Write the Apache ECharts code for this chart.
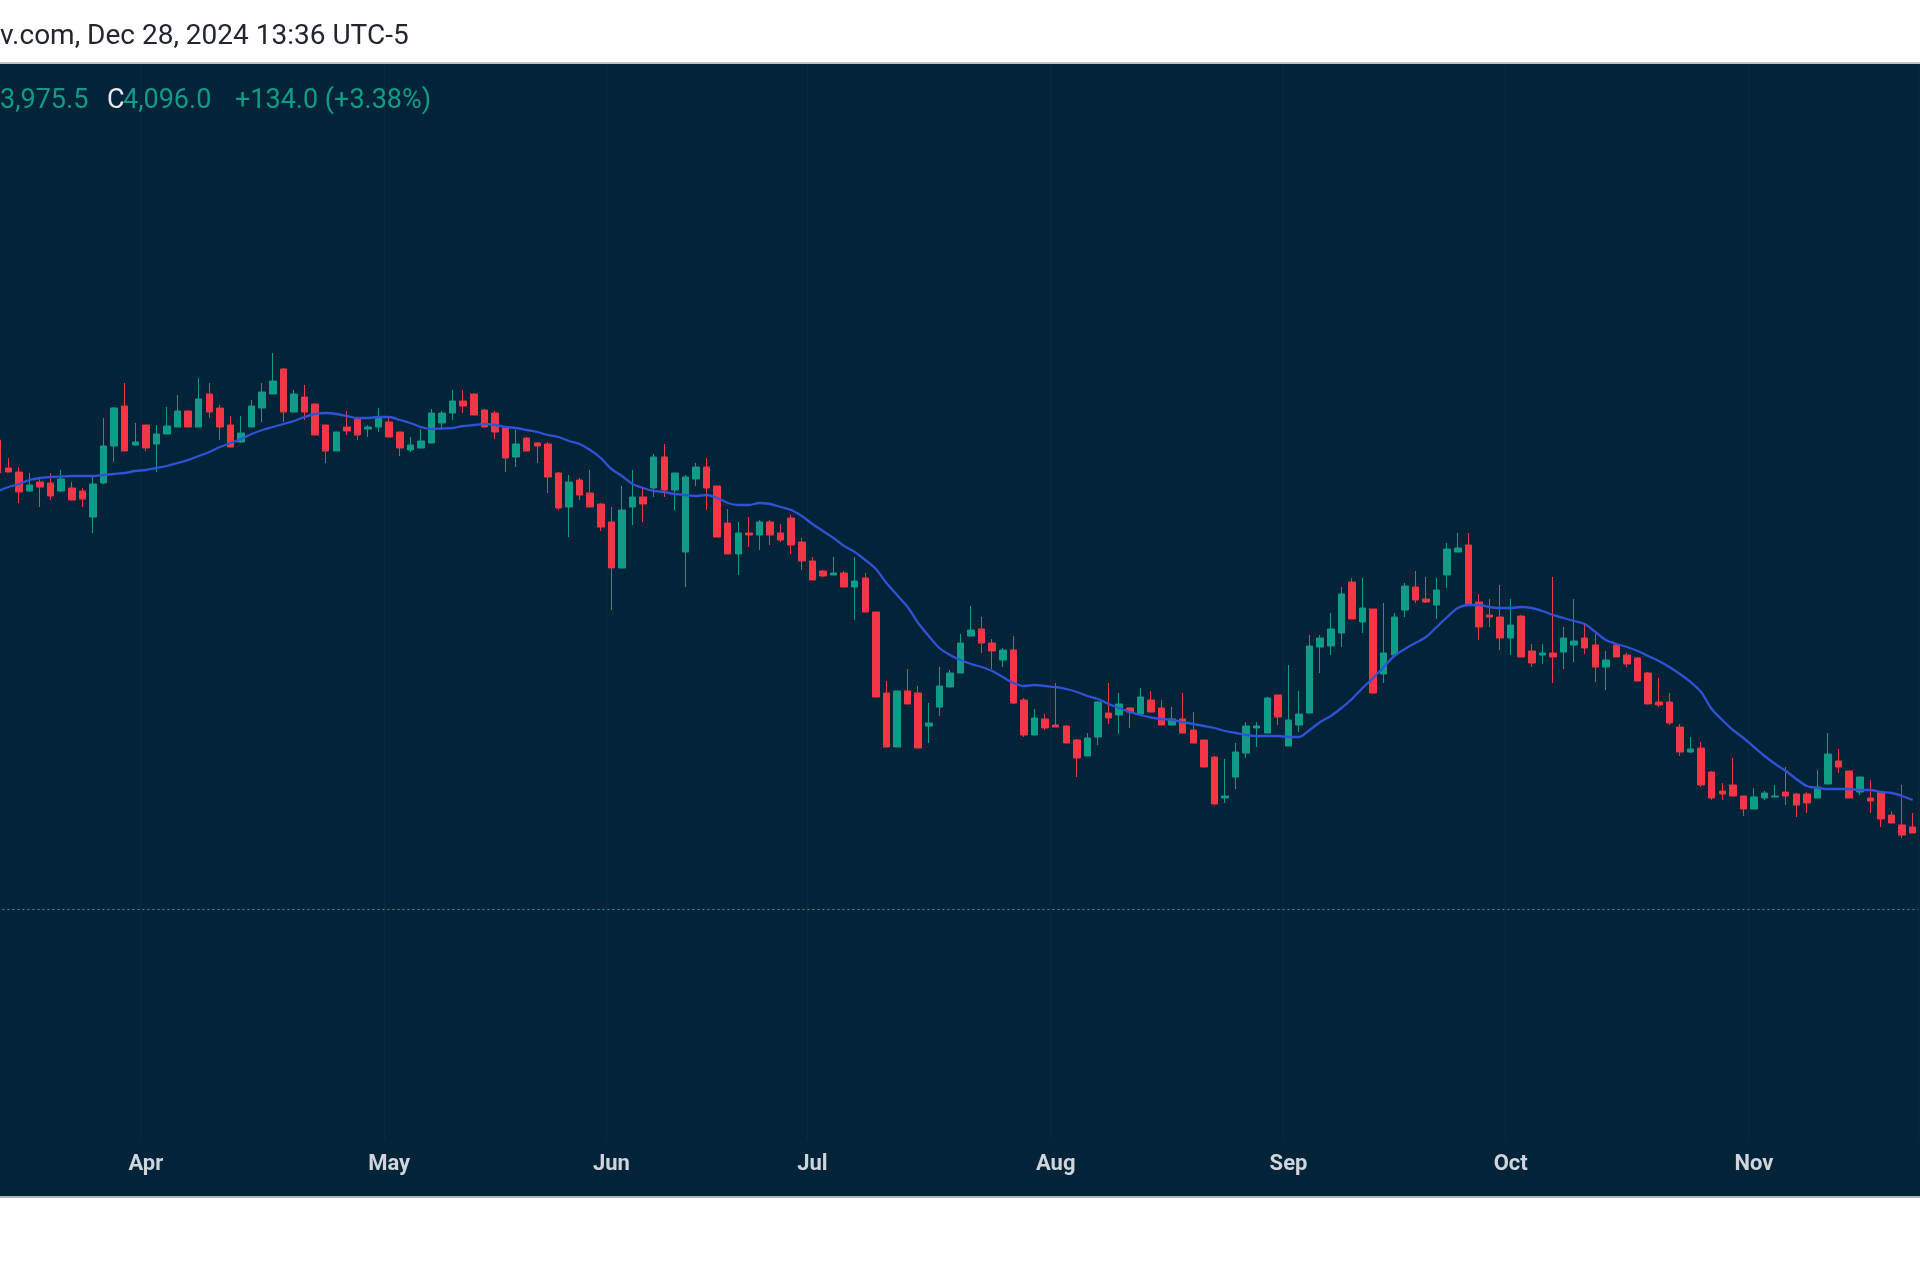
<!DOCTYPE html>
<html>
<head>
<meta charset="utf-8">
<script src="https://cdn.jsdelivr.net/npm/echarts@6/dist/echarts.min.js"></script>
<style>
html,body{margin:0;padding:0;background:#fff;overflow:hidden;width:1920px;height:1280px;}
#chart{position:absolute;left:-20px;top:0;width:1960px;height:1280px;}
</style>
</head>
<body>
<div id="chart"></div>
<script>
// ---- data ----
const headerText = 'v.com, Dec 28, 2024 13:36 UTC-5';
const lastLow = '3,975.5';
const lastCloseText = '4,096.0';
const lastChangeText = '+134.0 (+3.38%)';
const lastClose = 4096.0;

const monthTicks = ['Apr', 'May', 'Jun', 'Jul', 'Aug', 'Sep', 'Oct', 'Nov'];
const monthStartBars = [14, 37, 58, 77, 100, 122, 143, 166];

const opens = [
5034,4978,4970,4932,4950,4948,4932,4938,4932,4880,
4948,5022,5102,5024,5064,5026,5046,5060,5092,5060,
5126,5098,5064,5030,5060,5098,5126,5176,5090,5120,
5106,5064,5012,5060,5076,5056,5060,5070,5050,5014,
5018,5028,5068,5088,5112,5126,5094,5088,5058,5000,
5038,5028,5026,4968,4900,4954,4928,4906,4870,4778,
4900,4920,4938,5000,4934,4810,4956,4980,4942,4868,
4806,4848,4844,4870,4848,4878,4830,4792,4772,4764,
4768,4740,4758,4690,4528,4420,4532,4528,4462,4500,
4540,4568,4642,4656,4628,4594,4614,4514,4444,4476,
4464,4462,4434,4402,4440,4488,4484,4498,4486,4514,
4498,4464,4476,4454,4434,4400,4318,4360,4408,4458,
4448,4524,4422,4464,4488,4620,4622,4648,4750,4670,
4696,4566,4604,4694,4740,4716,4704,4764,4810,4824,
4710,4684,4680,4638,4682,4612,4604,4608,4610,4624,
4638,4624,4580,4624,4604,4598,4568,4510,4510,4460,
4410,4418,4370,4332,4344,4322,4296,4318,4320,4330,
4326,4326,4318,4346,4392,4372,4330,4318,4330,4284,
4264,4260];
const closes = [
4968,4970,4930,4944,4940,4922,4956,4914,4916,4946,
5022,5098,5012,5030,5018,5046,5062,5092,5060,5116,
5090,5060,5020,5048,5102,5130,5152,5090,5126,5090,
5044,5012,5050,5052,5044,5060,5080,5040,5018,5024,
5032,5088,5088,5112,5102,5084,5060,5050,4998,5026,
5012,5022,4960,4898,4950,4924,4900,4860,4778,4894,
4920,4906,5000,4934,4968,4960,4980,4938,4840,4806,
4848,4844,4870,4844,4834,4824,4792,4754,4762,4768,
4740,4752,4690,4520,4420,4532,4506,4418,4468,4542,
4568,4628,4654,4628,4612,4614,4508,4444,4478,4458,
4460,4428,4398,4438,4510,4478,4506,4490,4520,4490,
4464,4476,4448,4428,4380,4306,4322,4410,4462,4462,
4518,4480,4474,4486,4622,4638,4656,4726,4676,4698,
4528,4608,4680,4742,4714,4710,4734,4816,4818,4704,
4660,4680,4638,4664,4600,4588,4608,4600,4638,4632,
4618,4580,4594,4600,4586,4552,4506,4504,4468,4410,
4416,4344,4318,4326,4322,4296,4320,4328,4322,4322,
4304,4308,4340,4406,4380,4318,4360,4312,4276,4268,
4244,4248];
const lows = [
4964,4970,4908,4930,4900,4914,4930,4914,4900,4848,
4946,4990,5012,5022,5012,4970,5046,5060,5060,5060,
5078,5034,5020,5028,5060,5070,5126,5070,5090,5074,
5044,4988,5012,5044,5034,5040,5050,5040,5002,5010,
5018,5028,5054,5074,5088,5084,5060,5036,4970,4980,
5012,4988,4928,4894,4840,4914,4900,4852,4694,4778,
4864,4870,4920,4920,4894,4740,4942,4894,4840,4806,
4764,4820,4814,4824,4830,4806,4774,4754,4760,4764,
4740,4674,4690,4520,4420,4420,4506,4418,4428,4482,
4540,4568,4642,4608,4576,4580,4506,4440,4444,4454,
4460,4428,4360,4402,4424,4466,4446,4458,4482,4490,
4464,4464,4448,4428,4380,4304,4308,4336,4398,4420,
4448,4464,4422,4450,4488,4568,4604,4620,4676,4648,
4528,4548,4604,4680,4708,4708,4676,4738,4810,4704,
4634,4660,4614,4604,4600,4580,4586,4548,4576,4590,
4606,4550,4534,4600,4580,4552,4506,4500,4464,4402,
4408,4340,4314,4314,4322,4282,4296,4314,4320,4304,
4280,4288,4318,4346,4368,4318,4324,4288,4260,4268,
4238,4248];
const highs = [
5038,4998,4980,4968,4960,4968,4974,4950,4938,4960,
5078,5100,5148,5068,5064,5064,5100,5124,5092,5158,
5148,5104,5082,5082,5114,5148,5208,5178,5134,5144,
5106,5064,5050,5092,5078,5064,5098,5078,5050,5040,
5056,5096,5092,5134,5134,5126,5096,5092,5060,5054,
5040,5030,5030,4970,4964,4958,4974,4908,4900,4942,
4974,4940,5006,5026,4968,4964,4988,4998,4942,4896,
4870,4880,4874,4874,4866,4884,4838,4800,4774,4800,
4772,4800,4768,4690,4552,4532,4576,4542,4508,4580,
4574,4646,4702,4680,4636,4618,4642,4518,4496,4486,
4548,4464,4436,4448,4512,4548,4528,4500,4538,4532,
4514,4500,4528,4490,4434,4402,4396,4428,4470,4470,
4520,4524,4584,4532,4644,4644,4688,4740,4758,4758,
4696,4708,4688,4748,4772,4760,4758,4828,4848,4848,
4726,4716,4744,4716,4684,4626,4626,4760,4660,4716,
4664,4646,4612,4626,4608,4600,4570,4558,4528,4466,
4440,4430,4372,4348,4398,4322,4338,4332,4344,4380,
4328,4330,4374,4448,4416,4372,4360,4354,4332,4292,
4344,4288];
// moving average line
const movingAvg = [
4932,4940,4946,4954,4958,4960,4961,4962,4962,4962,
4964,4966,4968,4972,4974,4978,4982,4988,4994,5002,
5010,5020,5028,5036,5046,5054,5060,5066,5072,5080,
5086,5088,5086,5082,5078,5078,5080,5080,5074,5068,
5060,5056,5057,5058,5062,5064,5066,5064,5060,5058,
5054,5050,5044,5040,5032,5026,5014,4998,4976,4962,
4946,4938,4932,4930,4926,4924,4922,4924,4918,4908,
4904,4904,4908,4906,4900,4894,4882,4866,4852,4838,
4822,4810,4794,4776,4748,4724,4700,4668,4642,4618,
4604,4594,4586,4580,4572,4560,4548,4542,4544,4542,
4540,4536,4530,4522,4516,4506,4498,4490,4484,4479,
4476,4474,4470,4466,4462,4458,4452,4448,4444,4442,
4442,4442,4440,4440,4454,4470,4482,4498,4516,4538,
4558,4580,4602,4616,4628,4640,4660,4680,4698,4704,
4704,4700,4698,4698,4700,4698,4692,4684,4678,4672,
4666,4650,4634,4626,4620,4612,4602,4592,4580,4566,
4550,4530,4496,4474,4454,4438,4420,4402,4386,4372,
4356,4342,4338,4336,4336,4336,4334,4334,4330,4328,
4322,4314];

// ---- build ----
const categories = opens.map((_, i) => String(i));
const candles = opens.map((o, i) => [o, closes[i], lows[i], highs[i]]);
const isMonthStart = (i) => monthStartBars.indexOf(i) >= 0;

const UP = '#0f9c86';
const DOWN = '#f23645';
const BG = '#022338';
const FONT = 'Roboto, "Noto Sans", "DejaVu Sans", sans-serif';
const OX = 20; // canvas is shifted 20px left of the page

const chart = echarts.init(document.getElementById('chart'), null, {renderer: 'canvas'});
chart.setOption({
  backgroundColor: '#ffffff',
  animation: false,
  grid: {left: 12.43, right: 22, top: 64, bottom: 140, containLabel: false},
  xAxis: {
    type: 'category',
    data: categories,
    boundaryGap: true,
    axisLine: {show: false},
    axisTick: {show: false},
    axisLabel: {
      interval: (i) => isMonthStart(i),
      formatter: (v) => {
        const k = monthStartBars.indexOf(Number(v));
        return k >= 0 ? monthTicks[k] : '';
      },
      color: '#d0d4db',
      fontSize: 22,
      fontWeight: 'bold',
      fontFamily: FONT,
      margin: 13
    },
    splitLine: {
      show: true,
      interval: (i) => isMonthStart(i),
      lineStyle: {color: 'rgba(255,255,255,0.035)', width: 1}
    }
  },
  yAxis: {
    type: 'value',
    min: 3634,
    max: 5786,
    show: false,
    splitLine: {show: false}
  },
  series: [
    {
      type: 'candlestick',
      data: candles,
      barWidth: 7,
      itemStyle: {
        color: UP, color0: DOWN,
        borderColor: UP, borderColor0: DOWN,
        borderWidth: 1
      },
      markLine: {
        silent: true,
        symbol: ['none', 'none'],
        label: {show: false},
        lineStyle: {color: '#1a9e8c', type: [2, 3], width: 1.2},
        data: [{yAxis: lastClose}]
      },
      z: 3
    },
    {
      type: 'line',
      data: movingAvg,
      showSymbol: false,
      smooth: 0.3,
      lineStyle: {color: '#2f52d6', width: 2.3},
      z: 4
    }
  ],
  graphic: {
    elements: [
      {type: 'rect', z: -10, silent: true, shape: {x: 0, y: 0, width: 1960, height: 62}, style: {fill: '#ffffff'}},
      {type: 'rect', z: -10, silent: true, shape: {x: 0, y: 62, width: 1960, height: 2}, style: {fill: '#b9c3ce'}},
      {type: 'rect', z: -10, silent: true, shape: {x: 0, y: 64, width: 1960, height: 1132}, style: {fill: BG}},
      {type: 'rect', z: -10, silent: true, shape: {x: 0, y: 1196, width: 1960, height: 2}, style: {fill: '#aab5c2'}},
      {type: 'rect', z: -10, silent: true, shape: {x: 0, y: 1198, width: 1960, height: 82}, style: {fill: '#ffffff'}},
      {type: 'text', z: 10, silent: true, left: OX, top: 23,
        style: {text: headerText, fill: '#222631', font: '28px ' + FONT}},
      {type: 'text', z: 10, silent: true, left: OX, top: 88,
        style: {text: lastLow, fill: UP, font: '27px ' + FONT}},
      {type: 'text', z: 10, silent: true, left: OX + 107, top: 88,
        style: {text: 'C', fill: '#e6e9ee', font: '27px ' + FONT}},
      {type: 'text', z: 10, silent: true, left: OX + 123, top: 88,
        style: {text: lastCloseText, fill: UP, font: '27px ' + FONT}},
      {type: 'text', z: 10, silent: true, left: OX + 235, top: 88,
        style: {text: lastChangeText, fill: UP, font: '27px ' + FONT}}
    ]
  }
});
</script>
</body>
</html>
